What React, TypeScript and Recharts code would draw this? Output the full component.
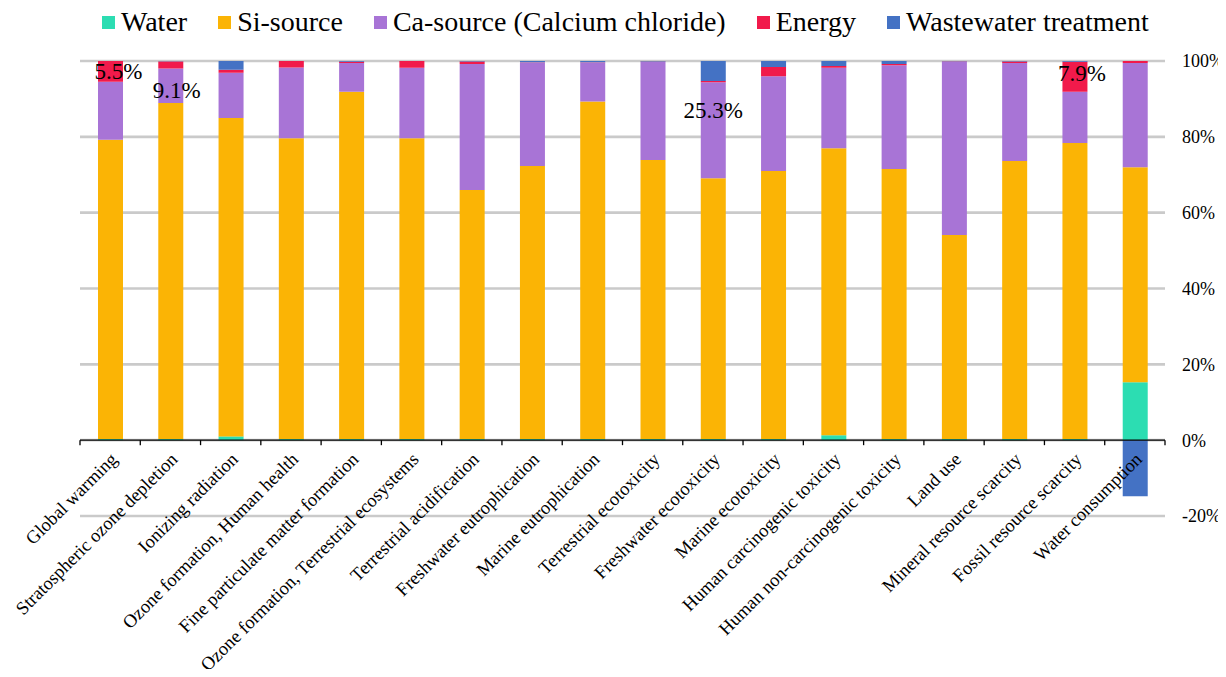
import React from 'react';
import { BarChart, Bar, XAxis, YAxis, CartesianGrid, ReferenceLine, Legend, LabelList } from 'recharts';

const categories = [
  'Global warming',
  'Stratospheric ozone depletion',
  'Ionizing radiation',
  'Ozone formation, Human health',
  'Fine particulate matter formation',
  'Ozone formation, Terrestrial ecosystems',
  'Terrestrial acidification',
  'Freshwater eutrophication',
  'Marine eutrophication',
  'Terrestrial ecotoxicity',
  'Freshwater ecotoxicity',
  'Marine ecotoxicity',
  'Human carcinogenic toxicity',
  'Human non-carcinogenic toxicity',
  'Land use',
  'Mineral resource scarcity',
  'Fossil resource scarcity',
  'Water consumption',
];

// contribution shares, %
const water = [0.3, 0.3, 1.0, 0.3, 0.3, 0.3, 0.3, 0.3, 0.3, 0.3, 0.3, 0.3, 1.3, 0.3, 0.3, 0.3, 0.3, 15.3];
const siSource = [78.9, 88.6, 84.0, 79.3, 91.6, 79.3, 65.7, 72.0, 89.0, 73.6, 68.8, 70.7, 75.7, 71.2, 53.8, 73.3, 78.1, 56.7];
const caSource = [15.3, 9.1, 11.9, 18.7, 7.6, 18.6, 33.2, 27.3, 10.3, 25.9, 25.3, 25.0, 21.2, 27.4, 45.8, 25.9, 13.5, 27.5];
const energy = [5.5, 1.9, 0.8, 1.7, 0.3, 1.8, 0.7, 0.05, 0.05, 0.05, 0.3, 2.4, 0.5, 0.3, 0.05, 0.4, 7.9, 0.5];
const wastewater = [0.05, 0.05, 2.3, 0.1, 0.2, 0.1, 0.1, 0.4, 0.4, 0.2, 5.4, 1.7, 1.3, 0.8, 0.1, 0.1, 0.2, -14.8];

const yTicks = [-20, 0, 20, 40, 60, 80, 100];

// which segments carry a value label
const energyNotes = [0, 16];
const caNotes = [1, 10];

const series = [
  { key: 'water', name: 'Water', color: '#2CDDB2' },
  { key: 'si', name: 'Si-source', color: '#FBB405' },
  { key: 'ca', name: 'Ca-source (Calcium chloride)', color: '#A874D6' },
  { key: 'energy', name: 'Energy', color: '#F11A4B' },
  { key: 'ww', name: 'Wastewater treatment', color: '#4472C4' },
];

const data = categories.map((name, i) => ({
  name,
  water: water[i],
  si: siSource[i],
  ca: caSource[i],
  energy: energy[i],
  ww: wastewater[i],
}));

const FONT = 'Liberation Serif, Times New Roman, serif';
const W = 1226;
const H = 677;
const PLOT_W = 1085;
const PLOT_H = 455;
const BAND = PLOT_W / categories.length;
const ZERO_SHIFT = (PLOT_H * 20) / 120;

// label nudges (Excel labels were dragged a bit)
const noteOffsets: { [k: string]: [number, number] } = {
  'energy-0': [8, 0],
  'energy-16': [7, -3],
  'ca-1': [6, 5],
  'ca-10': [0, -20],
};

const makeNote = (key: string, shown: number[]) => (props: any) => {
  const vb = props.viewBox || props;
  const x = vb.x ?? props.x;
  const y = vb.y ?? props.y;
  const width = vb.width ?? props.width;
  const height = vb.height ?? props.height;
  const { index, value } = props;
  if (!shown.includes(index)) return null;
  const [dx, dy] = noteOffsets[`${key}-${index}`] || [0, 0];
  return (
    <text
      x={x + width / 2 + dx}
      y={y + height / 2 + dy}
      textAnchor="middle"
      dominantBaseline="central"
      style={{ fontFamily: FONT, fontSize: 23 }}
      fill="#000"
    >
      {Number(value).toFixed(1)}%
    </text>
  );
};

const CategoryTick = (props: any) => {
  const { x, y, payload } = props;
  const zeroY = y - ZERO_SHIFT;
  const half = BAND / 2;
  const isLast = payload.value === categories[categories.length - 1];
  const tx = x + 4;
  const ty = zeroY + 16;
  return (
    <g>
      <line x1={x - half} x2={x - half} y1={zeroY} y2={zeroY + 5} stroke="#000" strokeWidth={1.3} />
      {isLast && <line x1={x + half} x2={x + half} y1={zeroY} y2={zeroY + 5} stroke="#000" strokeWidth={1.3} />}
      <text
        x={tx}
        y={ty}
        transform={`rotate(-45, ${tx}, ${ty})`}
        textAnchor="end"
        dominantBaseline="central"
        style={{ fontFamily: FONT, fontSize: 18.5 }}
        fill="#000"
      >
        {payload.value}
      </text>
    </g>
  );
};

const LegendRow = () => (
  <div style={{ display: 'flex', alignItems: 'center', marginLeft: 102, paddingTop: 7, fontFamily: FONT, fontSize: 28, lineHeight: '30px', color: '#000' }}>
    {series.map(s => (
      <div key={s.key} style={{ display: 'flex', alignItems: 'center', marginRight: 31 }}>
        <span style={{ display: 'inline-block', width: 13, height: 13, background: s.color, marginRight: 6 }} />
        <span>{s.name}</span>
      </div>
    ))}
  </div>
);

export default function App() {
  return (
    <div style={{ width: W, height: H, margin: -8, background: '#fff', fontFamily: FONT }}>
      <BarChart
        width={W}
        height={H}
        data={data}
        stackOffset="sign"
        barSize={25}
        margin={{ top: 21, right: 11, bottom: 160, left: 80 }}
      >
        <Legend
          verticalAlign="top"
          content={() => <LegendRow />}
          wrapperStyle={{ top: 0, left: 0, width: W, height: 40 }}
        />
        <CartesianGrid vertical={false} stroke="#cacaca" strokeWidth={2.6} />
        <XAxis
          dataKey="name"
          interval={0}
          height={1}
          axisLine={false}
          tickLine={false}
          tickSize={0}
          tickMargin={0}
          tick={<CategoryTick />}
        />
        <YAxis
          orientation="right"
          width={50}
          domain={[-20, 100]}
          ticks={yTicks}
          allowDataOverflow
          axisLine={false}
          tickLine={false}
          tickSize={0}
          tickMargin={17}
          tickFormatter={(v: number) => `${v}%`}
          tick={{ fill: '#000', fontSize: 18, style: { fontFamily: FONT } }}
        />
        {series.map(s => (
          <Bar key={s.key} dataKey={s.key} name={s.name} stackId="a" fill={s.color} isAnimationActive={false}>
            {s.key === 'energy' && <LabelList dataKey="energy" content={makeNote('energy', energyNotes)} />}
            {s.key === 'ca' && <LabelList dataKey="ca" content={makeNote('ca', caNotes)} />}
          </Bar>
        ))}
        <ReferenceLine y={0} stroke="#000" strokeWidth={1.3} />
      </BarChart>
    </div>
  );
}
